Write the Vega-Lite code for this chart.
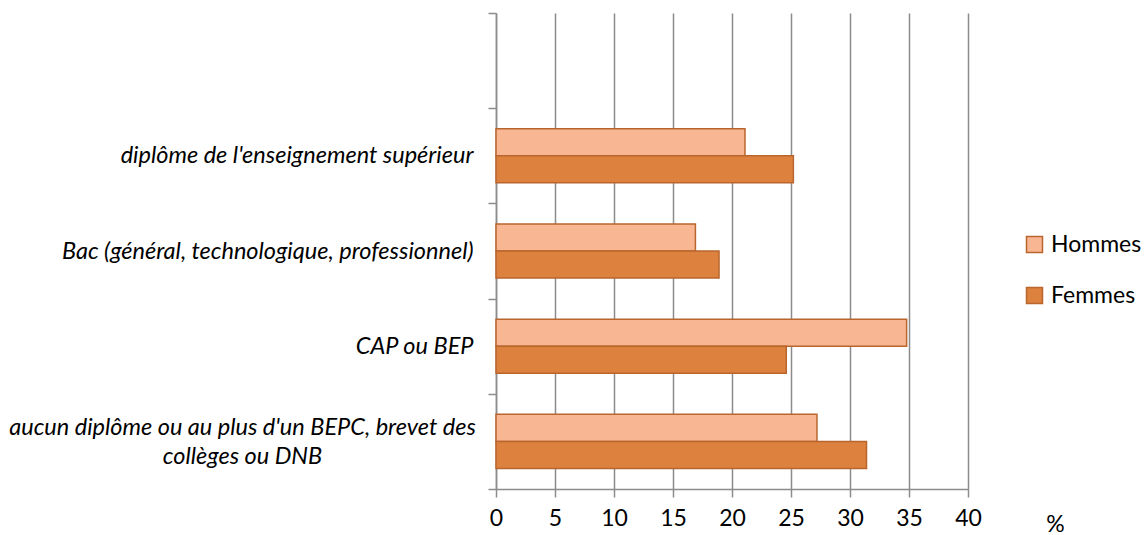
{
  "$schema": "https://vega.github.io/schema/vega-lite/v6.json",
  "autosize": {"type": "none"},
  "width": 472,
  "height": 476,
  "padding": {"left": 496, "top": 13, "right": 177, "bottom": 46},
  "background": "white",
  "config": {"view": {"stroke": null}},
  "data": {
    "values": [
      {"cat": "diplôme de l'enseignement supérieur", "sexe": "Hommes", "pct": 21.1},
      {"cat": "diplôme de l'enseignement supérieur", "sexe": "Femmes", "pct": 25.2},
      {"cat": "Bac (général, technologique, professionnel)", "sexe": "Hommes", "pct": 16.9},
      {"cat": "Bac (général, technologique, professionnel)", "sexe": "Femmes", "pct": 18.9},
      {"cat": "CAP ou BEP", "sexe": "Hommes", "pct": 34.8},
      {"cat": "CAP ou BEP", "sexe": "Femmes", "pct": 24.6},
      {"cat": "aucun diplôme ou au plus d'un BEPC, brevet des collèges ou DNB", "sexe": "Hommes", "pct": 27.2},
      {"cat": "aucun diplôme ou au plus d'un BEPC, brevet des collèges ou DNB", "sexe": "Femmes", "pct": 31.4}
    ]
  },
  "mark": {"type": "bar", "stroke": "#b9662e", "strokeWidth": 1.5},
  "encoding": {
    "y": {
      "field": "cat",
      "type": "nominal",
      "scale": {
        "domain": [" ", "diplôme de l'enseignement supérieur", "Bac (général, technologique, professionnel)", "CAP ou BEP", "aucun diplôme ou au plus d'un BEPC, brevet des collèges ou DNB"],
        "paddingInner": 0,
        "paddingOuter": 0
      },
      "axis": {
        "title": null,
        "tickBand": "extent",
        "grid": false,
        "domainColor": "#8c8c8c",
        "domainWidth": 1.5,
        "tickColor": "#8c8c8c",
        "tickWidth": 1.5,
        "tickSize": 8,
        "labelFont": "Lato",
        "labelFontStyle": "italic",
        "labelFontSize": 23.5,
        "labelColor": "#000000",
        "labelLimit": 700,
        "labelOverlap": false,
        "labelLineHeight": 29,
        "labelExpr": "datum.value === \"aucun diplôme ou au plus d'un BEPC, brevet des collèges ou DNB\" ? [\"aucun diplôme ou au plus d'un BEPC, brevet des\", 'collèges ou DNB'] : datum.value",
        "labelAlign": {"condition": {"test": "datum.value === \"aucun diplôme ou au plus d'un BEPC, brevet des collèges ou DNB\"", "value": "center"}, "value": "right"},
        "labelPadding": {"condition": {"test": "datum.value === \"aucun diplôme ou au plus d'un BEPC, brevet des collèges ou DNB\"", "value": 246}, "value": 15},
        "labelOffset": {"condition": {"test": "datum.value === \"aucun diplôme ou au plus d'un BEPC, brevet des collèges ou DNB\"", "value": -14}, "value": 0}
      }
    },
    "yOffset": {
      "field": "sexe",
      "type": "nominal",
      "scale": {"domain": ["Hommes", "Femmes"], "paddingInner": 0, "paddingOuter": 0.76}
    },
    "x": {
      "field": "pct",
      "type": "quantitative",
      "scale": {"domain": [0, 40], "nice": false},
      "axis": {
        "title": "%",
        "titleFont": "Lato",
        "titleFontWeight": "normal",
        "titleFontSize": 23,
        "titleColor": "#000000",
        "titleX": 559,
        "titleY": 42,
        "titleAlign": "center",
        "titleBaseline": "alphabetic",
        "values": [0, 5, 10, 15, 20, 25, 30, 35, 40],
        "grid": true,
        "gridColor": "#8c8c8c",
        "gridWidth": 1.5,
        "domainColor": "#8c8c8c",
        "domainWidth": 1.5,
        "tickColor": "#8c8c8c",
        "tickWidth": 1.5,
        "tickSize": 8,
        "labelFont": "Lato",
        "labelFontSize": 23,
        "labelColor": "#000000",
        "labelPadding": 10,
        "labelFlush": false
      }
    },
    "color": {
      "field": "sexe",
      "type": "nominal",
      "scale": {"domain": ["Hommes", "Femmes"], "range": ["#f8b692", "#dc823e"]},
      "legend": {
        "title": null,
        "orient": "none",
        "legendX": 527,
        "legendY": 220,
        "symbolType": "square",
        "symbolSize": 256,
        "symbolStrokeColor": "#b9662e",
        "symbolStrokeWidth": 1.5,
        "labelFont": "Lato",
        "labelFontSize": 23,
        "labelColor": "#000000",
        "labelOffset": 5,
        "rowPadding": 27
      }
    }
  }
}
